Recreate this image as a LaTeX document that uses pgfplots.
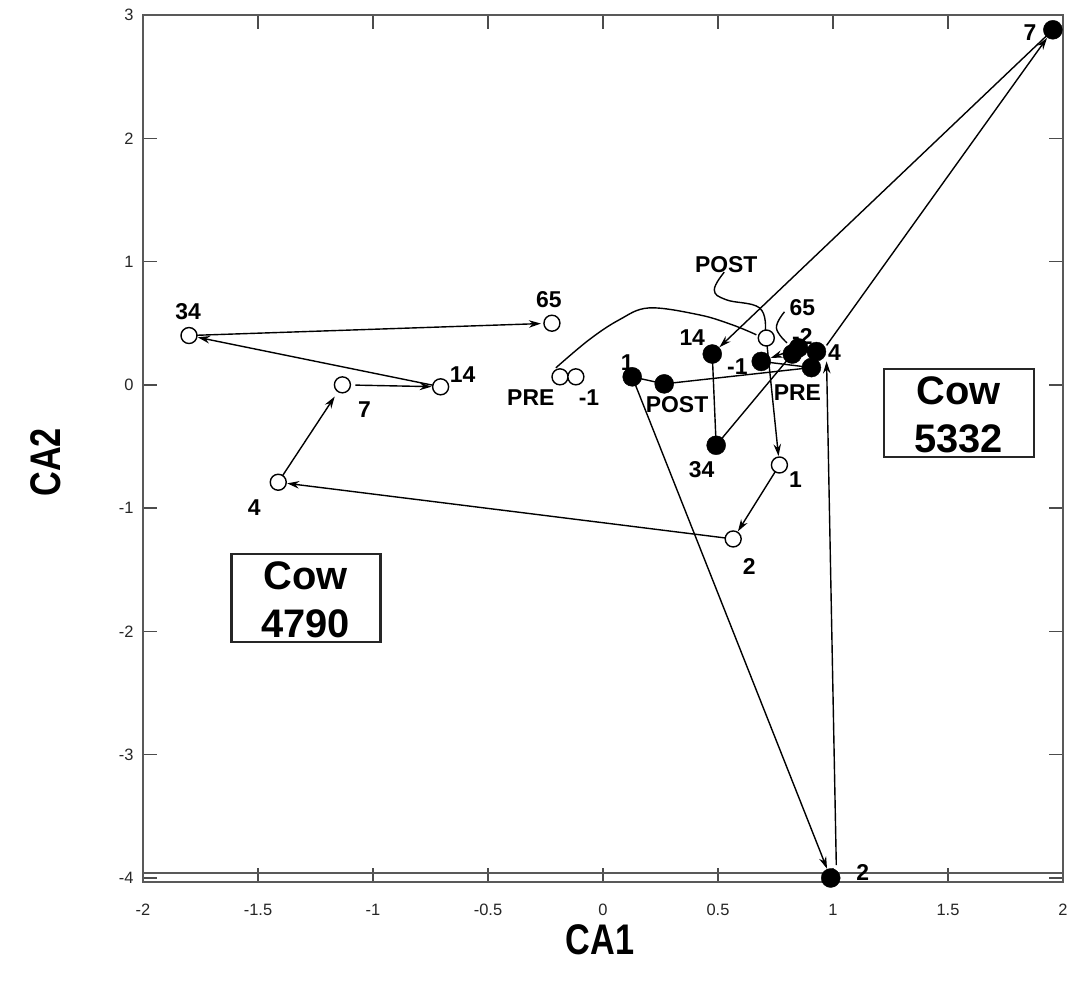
\documentclass[border=0pt]{standalone}
\usepackage{fontspec}
\setmainfont{Liberation Sans}
\newfontfamily\condfont[FakeStretch=0.8]{Liberation Sans}
\usepackage{pgfplots}
\pgfplotsset{compat=1.18}
\usetikzlibrary{arrows.meta,calc}
\tikzset{
  lbl/.style={font=\bfseries\fontsize{23}{23}\selectfont, inner sep=0pt, anchor=center},
  cowtxt/.style={font=\bfseries\fontsize{40}{48}\selectfont, inner sep=0pt, align=center, anchor=center},
}
\pgfplotsset{
  arr/.style={black, line width=1.4bp, -{Stealth[length=12bp,width=7.5bp]}, shorten >=#1, shorten <=8bp},
  arr/.default=9bp,
  seg/.style={black, line width=1.4bp},
}
\begin{document}
\begin{tikzpicture}
\begin{axis}[
  name=ax,
  scale only axis,
  width=920bp, height=866.7bp,
  xmin=-2, xmax=2, ymin=-4.03, ymax=3,
  xtick={-2,-1.5,-1,-0.5,0,0.5,1,1.5,2},
  ytick={-4,-3,-2,-1,0,1,2,3},
  tick align=inside,
  major tick length=14bp,
  axis line style={draw=black!65, line width=1.8bp},
  tick style={draw=black!70, line width=1.3bp},
  ticklabel style={font=\fontsize{16.5}{16.5}\selectfont, text=black!85},
  /pgf/number format/assume math mode=true,
  xticklabel style={yshift=-19bp},
  yticklabel style={xshift=-6bp},
  xlabel={CA1}, ylabel={CA2},
  xlabel style={at={(axis description cs:0.497,-0.0673)}, anchor=center, font=\condfont\bfseries\fontsize{43}{43}\selectfont},
  ylabel style={at={(axis description cs:-0.1054,0.484)}, anchor=center, font=\condfont\bfseries\fontsize{43}{43}\selectfont},
  clip=false,
]
% extra bottom line
\draw[black!65, line width=1.4bp] (axis cs:-2,-3.96) -- (axis cs:2,-3.96);

% ---- Cow 4790 (open circles) ----
\addplot[seg, smooth, tension=0.6] coordinates {(-0.205,0.138) (-0.061,0.365) (0.07,0.527) (0.2,0.624) (0.418,0.568) (0.562,0.487) (0.667,0.406)};
\addplot[arr] coordinates {(0.71,0.38) (0.767,-0.65)};
\addplot[arr] coordinates {(0.767,-0.65) (0.566,-1.25)};
\addplot[arr] coordinates {(0.566,-1.25) (-1.412,-0.79)};
\addplot[arr=14bp] coordinates {(-1.412,-0.79) (-1.133,0.0)};
\addplot[black, line width=1.4bp, -{Stealth[length=12bp,width=7.5bp]}, shorten >=9bp, shorten <=13bp] coordinates {(-1.133,0.0) (-0.706,-0.016)};
\addplot[arr] coordinates {(-0.706,-0.016) (-1.80,0.40)};
\addplot[arr=11bp] coordinates {(-1.80,0.40) (-0.222,0.50)};
% leader curves
\addplot[seg, smooth, tension=0.7] coordinates {(0.527,0.914) (0.484,0.77) (0.536,0.69) (0.68,0.625) (0.706,0.446)};
\addplot[seg, smooth, tension=0.7] coordinates {(0.789,0.592) (0.754,0.462) (0.80,0.34)};

% ---- Cow 5332 (filled circles) ----
\addplot[arr=10bp] coordinates {(0.127,0.065) (0.99,-4.0)};
\addplot[black, line width=1.4bp, -{Stealth[length=12bp,width=7.5bp]}, shorten >=0bp, shorten <=8bp] coordinates {(1.015,-3.96) (0.972,0.19)};
\addplot[black, line width=1.4bp, -{Stealth[length=12bp,width=7.5bp]}, shorten >=10bp, shorten <=0bp] coordinates {(0.972,0.32) (1.956,2.88)};
\addplot[arr=10bp] coordinates {(1.956,2.88) (0.475,0.25)};
\addplot[seg] coordinates {(0.475,0.25) (0.492,-0.49)};
\addplot[seg] coordinates {(0.492,-0.49) (0.823,0.25)};
\addplot[arr=10bp] coordinates {(0.85,0.30) (0.688,0.19)};
\addplot[seg] coordinates {(0.906,0.14) (0.688,0.19)};
\addplot[seg] coordinates {(0.127,0.065) (0.266,0.008) (0.906,0.14)};

% marks
\addplot[only marks, mark=*, mark size=8bp, mark options={fill=white, draw=black, line width=1.4bp}] coordinates {
  (-0.187,0.065) (-0.118,0.065) (0.71,0.38) (0.767,-0.65) (0.566,-1.25)
  (-1.412,-0.79) (-1.133,0.0) (-0.706,-0.016) (-1.80,0.40) (-0.222,0.50)};
\addplot[only marks, mark=*, mark size=9.5bp, mark options={fill=black, draw=black}] coordinates {
  (0.127,0.065) (0.266,0.008) (0.475,0.25) (0.492,-0.49) (0.688,0.19)
  (0.823,0.25) (0.85,0.30) (0.928,0.27) (0.906,0.14) (1.956,2.88) (0.99,-4.0)};

% labels cow 4790
\node[lbl] at (axis cs:-1.804,0.592) {34};
\node[lbl] at (axis cs:-0.235,0.689) {65};
\node[lbl] at (axis cs:-0.61,0.081) {14};
\node[lbl] at (axis cs:-1.037,-0.203) {7};
\node[lbl] at (axis cs:-1.516,-0.998) {4};
\node[lbl] at (axis cs:0.636,-1.476) {2};
\node[lbl] at (axis cs:0.837,-0.770) {1};
\node[lbl] at (axis cs:-0.314,-0.105) {PRE};
\node[lbl] at (axis cs:-0.061,-0.105) {-1};
\node[lbl] at (axis cs:0.536,0.973) {POST};
% labels cow 5332
\node[lbl] at (axis cs:0.105,0.178) {1};
\node[lbl] at (axis cs:0.322,-0.162) {POST};
\node[lbl] at (axis cs:0.388,0.381) {14};
\node[lbl] at (axis cs:0.429,-0.690) {34};
\node[lbl] at (axis cs:0.584,0.146) {-1};
\node[lbl] at (axis cs:0.867,0.625) {65};
\node[lbl] at (axis cs:0.867,0.389) {-2};
\node[lbl] at (axis cs:1.007,0.259) {4};
\node[lbl] at (axis cs:0.845,-0.065) {PRE};
\node[lbl] at (axis cs:1.856,2.855) {7};
\node[lbl] at (axis cs:1.129,-3.958) {2};

% boxes
\node[draw=black!85, line width=2.5bp, minimum width=149bp, minimum height=88bp, inner sep=0pt] at (axis cs:-1.292,-1.727) {};
\node[cowtxt] at (axis cs:-1.292,-1.744) {Cow\\4790};
\node[draw=black!85, line width=2.5bp, minimum width=150bp, minimum height=88bp, inner sep=0pt] at (axis cs:1.547,-0.227) {};
\node[cowtxt] at (axis cs:1.547,-0.243) {Cow\\5332};
\end{axis}
\pgfresetboundingbox
\path[use as bounding box] ($(ax.south west)+(-143bp,-101.3bp)$) rectangle ($(ax.north east)+(5bp,15bp)$);
\end{tikzpicture}
\end{document}
